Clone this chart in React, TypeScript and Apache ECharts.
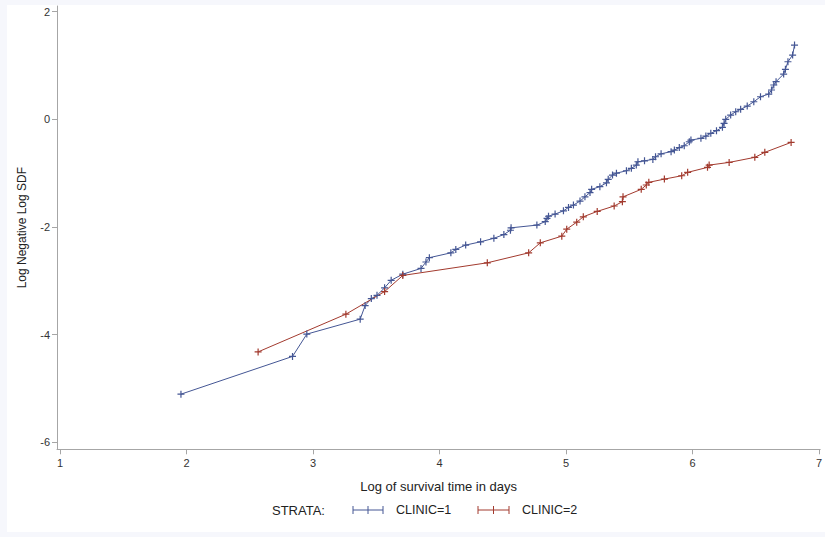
import React, { useEffect, useRef } from "react";
import * as echarts from "echarts";

const xTicks = [1, 2, 3, 4, 5, 6, 7];
const yTicks = [-6, -4, -2, 0, 2];

const clinic1X = [
  1.956, 2.838, 2.951, 3.373, 3.412, 3.461, 3.506, 3.566, 3.618, 3.71, 3.854, 3.893, 3.92,
  4.09, 4.129, 4.207, 4.325, 4.43, 4.509, 4.561, 4.566, 4.77, 4.836, 4.85, 4.862, 4.914,
  4.98, 5.02, 5.059, 5.111, 5.15, 5.19, 5.203, 5.268, 5.32, 5.334, 5.368, 5.399, 5.478,
  5.517, 5.556, 5.569, 5.621, 5.687, 5.708, 5.752, 5.831, 5.857, 5.896, 5.935, 5.975,
  5.988, 6.067, 6.106, 6.145, 6.19, 6.237, 6.25, 6.263, 6.302, 6.342, 6.381, 6.433, 6.485,
  6.538, 6.603, 6.625, 6.643, 6.661, 6.721, 6.735, 6.755, 6.792, 6.807,
];
const clinic1Y = [
  -5.106, -4.405, -3.99, -3.712, -3.46, -3.33, -3.27, -3.13, -2.99, -2.876, -2.77, -2.65,
  -2.57, -2.48, -2.416, -2.336, -2.275, -2.21, -2.14, -2.06, -2.015, -1.965, -1.9, -1.84,
  -1.8, -1.76, -1.7, -1.636, -1.593, -1.519, -1.44, -1.36, -1.3, -1.25, -1.18, -1.115,
  -1.035, -1.0, -0.955, -0.91, -0.85, -0.788, -0.77, -0.744, -0.695, -0.64, -0.6, -0.57,
  -0.525, -0.49, -0.416, -0.385, -0.353, -0.31, -0.26, -0.21, -0.149, -0.074, 0.0, 0.08,
  0.141, 0.186, 0.247, 0.327, 0.42, 0.47, 0.545, 0.638, 0.7, 0.842, 0.93, 1.07, 1.195, 1.38,
];

const clinic2X = [
  2.566, 3.26, 3.566, 3.71, 4.378, 4.705, 4.797, 4.967, 5.006, 5.085, 5.137, 5.247, 5.381,
  5.446, 5.451, 5.595, 5.635, 5.655, 5.778, 5.915, 5.962, 6.119, 6.132, 6.29, 6.493, 6.572,
  6.78,
];
const clinic2Y = [
  -4.32, -3.62, -3.2, -2.9, -2.665, -2.48, -2.294, -2.17, -2.04, -1.91, -1.81, -1.71, -1.61,
  -1.53, -1.44, -1.3, -1.22, -1.17, -1.11, -1.048, -0.985, -0.892, -0.85, -0.8, -0.706,
  -0.613, -0.428,
];

const seriesNames = ["CLINIC=1", "CLINIC=2"];
const BLUE = "#445694";
const RED = "#A23A2E";
const FONT = "'Liberation Sans', Arial, sans-serif";
const PLUS = "path://M4 0V8M0 4H8";

function pairs(xs: number[], ys: number[]) {
  return xs.map((x, i) => [x, ys[i]]);
}

function legendItem(x0: number, x1: number, y: number, color: string, label: string, tx: number) {
  const els: any[] = [
    { type: "line", shape: { x1: x0, y1: y, x2: x1, y2: y }, style: { stroke: color, lineWidth: 1 } },
  ];
  [x0, (x0 + x1) / 2, x1].forEach((px) => {
    els.push({ type: "line", shape: { x1: px, y1: y - 4, x2: px, y2: y + 4 }, style: { stroke: color, lineWidth: 1 } });
  });
  els.push({
    type: "text",
    x: tx,
    y,
    style: { text: label, font: `12.5px ${FONT}`, fill: "#222", verticalAlign: "middle", align: "left" },
  });
  return els;
}

export default function App() {
  const ref = useRef<HTMLDivElement>(null);
  useEffect(() => {
    if (!ref.current) return;
    const chart = echarts.init(ref.current, null, { renderer: "svg" });
    const axisLine = { show: true, onZero: false, lineStyle: { color: "#a6a6a6", width: 1 } };
    chart.setOption({
      animation: false,
      grid: { left: 57, top: 6, width: 768, height: 443.3, containLabel: false },
      xAxis: {
        type: "value",
        min: 0.976,
        max: 7.01,
        splitLine: { show: false },
        axisLine,
        axisTick: { show: true, length: 5, customValues: xTicks, lineStyle: { color: "#a6a6a6" } },
        axisLabel: {
          customValues: xTicks,
          margin: 8,
          fontSize: 11,
          fontFamily: FONT,
          color: "#333",
        },
        name: "Log of survival time in days",
        nameLocation: "middle",
        nameGap: 31,
        nameTextStyle: { fontSize: 13, fontFamily: FONT, color: "#222" },
      },
      yAxis: {
        type: "value",
        min: -6.13,
        max: 2.106,
        splitLine: { show: false },
        axisLine,
        axisTick: { show: true, length: 5, customValues: yTicks, lineStyle: { color: "#a6a6a6" } },
        axisLabel: {
          customValues: yTicks,
          margin: 7,
          fontSize: 11,
          fontFamily: FONT,
          color: "#333",
        },
        name: "Log Negative Log SDF",
        nameLocation: "middle",
        nameGap: 29,
        nameTextStyle: { fontSize: 12, fontFamily: FONT, color: "#222" },
      },
      series: [
        {
          name: seriesNames[0],
          type: "line",
          data: pairs(clinic1X, clinic1Y),
          symbol: PLUS,
          symbolSize: 7,
          lineStyle: { color: BLUE, width: 1 },
          itemStyle: { color: BLUE, borderColor: BLUE, borderWidth: 1.2 },
        },
        {
          name: seriesNames[1],
          type: "line",
          data: pairs(clinic2X, clinic2Y),
          symbol: PLUS,
          symbolSize: 7,
          lineStyle: { color: RED, width: 1 },
          itemStyle: { color: RED, borderColor: RED, borderWidth: 1.2 },
        },
      ],
      graphic: [
        {
          type: "text",
          x: 272,
          y: 510,
          style: { text: "STRATA:", font: `13px ${FONT}`, fill: "#222", verticalAlign: "middle" },
        },
        ...legendItem(353, 383, 510, BLUE, seriesNames[0], 396),
        ...legendItem(478, 509, 510, RED, seriesNames[1], 522),
      ],
    });
    return () => chart.dispose();
  }, []);
  return (
    <div style={{ position: "fixed", left: 0, top: 0, width: 825, height: 537, background: "#f6f7fc" }}>
      <div style={{ position: "absolute", left: 7, top: 5, width: 818, height: 527, background: "#ffffff" }} />
      <div ref={ref} style={{ position: "absolute", left: 0, top: 0, width: 825, height: 537 }} />
    </div>
  );
}
